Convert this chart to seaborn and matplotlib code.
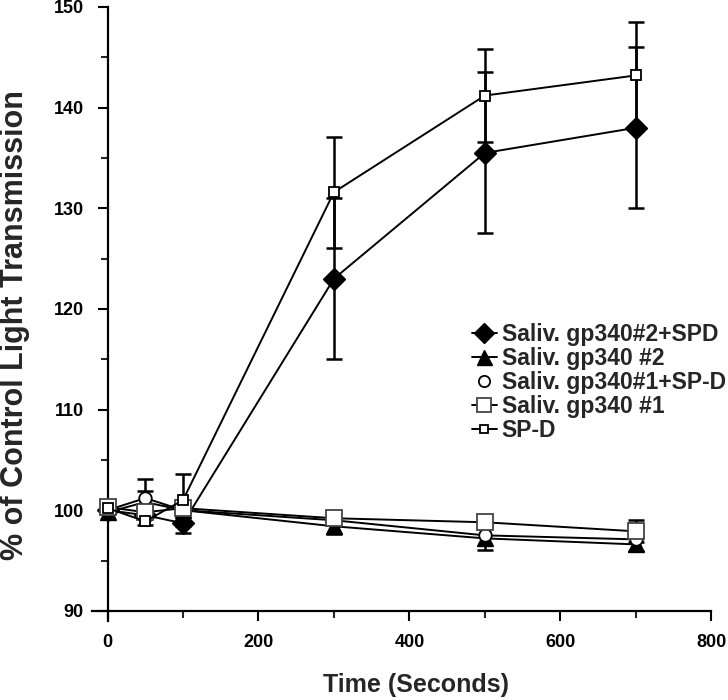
import matplotlib
matplotlib.use("Agg")
import matplotlib.pyplot as plt
from matplotlib.lines import Line2D
from matplotlib.ticker import MultipleLocator
import seaborn as sns
import pandas as pd

# ---- data ----
time = [0, 50, 100, 300, 500, 700]
labels = ["Saliv. gp340#2+SPD", "Saliv. gp340 #2", "Saliv. gp340#1+SP-D",
          "Saliv. gp340 #1", "SP-D"]
gp2_spd = [100.0, 99.5, 98.7, 123.0, 135.5, 138.0]
gp2 = [99.8, 100.8, 100.0, 98.4, 97.2, 96.6]
gp1_spd = [100.0, 101.2, 100.0, 99.0, 97.5, 97.1]
gp1 = [100.3, 99.8, 100.2, 99.2, 98.8, 97.9]
spd = [100.2, 98.9, 101.0, 131.6, 141.2, 143.2]

gp2_spd_err = [0.0, 0.0, 1.0, 8.0, 8.0, 8.0]
gp2_err = [0.0, 2.3, 0.0, 0.8, 1.2, 0.7]
gp1_spd_err = [0.0, 0.7, 0.0, 0.0, 0.0, 0.0]
gp1_err = [0.0, 0.0, 0.0, 0.0, 0.0, 1.1]
spd_err = [0.0, 0.0, 2.6, 5.5, 4.6, 5.3]

series = [gp2_spd, gp2, gp1_spd, gp1, spd]
errors = [gp2_spd_err, gp2_err, gp1_spd_err, gp1_err, spd_err]

rows = []
for lab, vals, errs in zip(labels, series, errors):
    for t, v, e in zip(time, vals, errs):
        rows.append({"time": t, "value": v, "err": e, "series": lab})
df = pd.DataFrame(rows)

# ---- style ----
sns.set_style("ticks")
plt.rcParams["font.family"] = ["Liberation Sans", "DejaVu Sans"]
plt.rcParams["font.weight"] = "bold"

fig = plt.figure(figsize=(7.28, 7.0), dpi=100)
ax = fig.add_axes([0.127, 0.113, 0.850, 0.877])

styles = {
    labels[0]: dict(marker="D", ms=11, mfc="black", mec="black", mew=1.0),
    labels[1]: dict(marker="^", ms=12, mfc="black", mec="black", mew=1.0),
    labels[2]: dict(marker="o", ms=9, mfc="white", mec="black", mew=1.3),
    labels[3]: dict(marker="s", ms=11, mfc="white", mec="#444444", mew=1.3),
    labels[4]: dict(marker="s", ms=7, mfc="white", mec="black", mew=1.3),
}

# error bars
for lab in labels:
    sub = df[(df["series"] == lab) & (df["err"] > 0)]
    ax.errorbar(sub["time"], sub["value"], yerr=sub["err"], fmt="none",
                ecolor="black", elinewidth=1.8, capsize=6, capthick=1.8,
                zorder=2)

# lines with markers
for lab in labels:
    sub = df[df["series"] == lab]
    st = styles[lab]
    sns.lineplot(data=sub, x="time", y="value", ax=ax, color="black",
                 linewidth=1.4, marker=st["marker"], markersize=st["ms"],
                 markerfacecolor=st["mfc"], markeredgecolor=st["mec"],
                 markeredgewidth=st["mew"], legend=False, zorder=3)

# axes
ax.set_xlim(-20, 800)
ax.set_ylim(89, 150)
ax.spines["left"].set_position(("data", 0))
ax.spines["bottom"].set_position(("data", 90))
for s in ["top", "right"]:
    ax.spines[s].set_visible(False)
for s in ["left", "bottom"]:
    ax.spines[s].set_linewidth(1.6)
    ax.spines[s].set_color("black")

ax.xaxis.set_major_locator(MultipleLocator(200))
ax.xaxis.set_minor_locator(MultipleLocator(100))
ax.yaxis.set_major_locator(MultipleLocator(10))
ax.yaxis.set_minor_locator(MultipleLocator(5))
ax.set_yticks([90, 100, 110, 120, 130, 140, 150])
ax.tick_params(which="major", direction="out", length=7, width=1.5,
               labelsize=13, pad=10, colors="black")
ax.tick_params(which="minor", direction="out", length=5, width=1.5)
for t in ax.get_xticklabels() + ax.get_yticklabels():
    t.set_fontweight("bold")

ax.set_xlabel("")
ax.set_ylabel("")
fig.text(0.572, 0.021, "Time (Seconds)", ha="center", va="center",
         fontsize=18, fontweight="bold")
fig.text(0.020, 0.535, "% of Control Light Transmission", ha="center",
         va="center", rotation=90, fontsize=22, fontweight="bold")

# legend
handles = []
for lab in labels:
    st = styles[lab]
    ls = "none" if lab == labels[2] else "-"
    handles.append(Line2D([0], [0], color="black", linestyle=ls, linewidth=1.4,
                          marker=st["marker"], markersize=st["ms"] * 0.9,
                          markerfacecolor=st["mfc"], markeredgecolor=st["mec"],
                          markeredgewidth=st["mew"]))
leg = fig.legend(handles, labels, loc="upper left",
                 bbox_to_anchor=(0.648, 0.538), frameon=False,
                 fontsize=16.5, handlelength=1.1, handletextpad=0.2,
                 labelspacing=0.04, borderaxespad=0, borderpad=0)
for t in leg.get_texts():
    t.set_fontweight("bold")

fig.savefig("out.png", dpi=100)
